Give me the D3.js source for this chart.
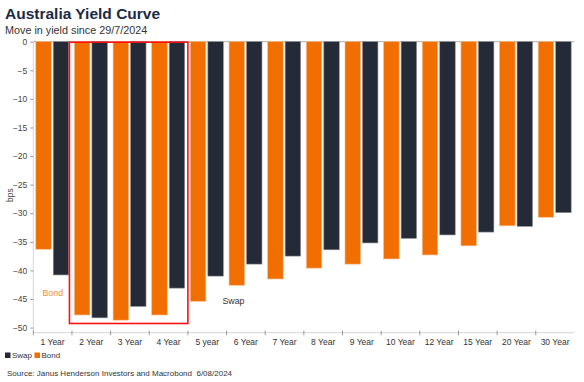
<!DOCTYPE html>
<html><head><meta charset="utf-8">
<script src="https://cdn.jsdelivr.net/npm/d3@7/dist/d3.min.js"></script>
<style>body{margin:0;background:#fff;}svg{display:block;font-family:Arial,"Liberation Sans",sans-serif;}</style>
</head><body>
<svg id="c" width="584" height="382"></svg>
<script>
const categories = ["1 Year","2 Year","3 Year","4 Year","5 year","6 Year","7 Year","8 Year","9 Year","10 Year","12 Year","15 Year","20 Year","30 Year"];
const bond = [-36.3,-47.8,-48.7,-47.8,-45.4,-42.6,-41.5,-39.6,-38.9,-38.0,-37.3,-35.7,-32.2,-30.7];
const swap = [-40.8,-48.3,-46.3,-43.1,-41.0,-38.9,-37.5,-36.4,-35.2,-34.4,-33.8,-33.3,-32.3,-29.9];
const yTicks = [0,-5,-10,-15,-20,-25,-30,-35,-40,-45,-50];
const highlight = ["2 Year","4 Year"];

const svg = d3.select("#c");
const m = {l:33.3, r:574.4, t:41.7, b:332.7};
const x = d3.scaleBand().domain(categories).range([m.l, m.r]).paddingInner(0).paddingOuter(0);
const y = d3.scaleLinear().domain([0,-50.9]).range([m.t, m.b]);
const bw = x.bandwidth();
const barW = bw*0.40;

// title
svg.append("text").attr("x",5).attr("y",19).attr("font-size",15.5).attr("font-weight","bold").attr("fill","#1b2a45").text("Australia Yield Curve");
svg.append("text").attr("x",5).attr("y",33.5).attr("font-size",10.8).attr("fill","#333").text("Move in yield since 29/7/2024");

// zero line (top)
svg.append("line").attr("x1",m.l).attr("x2",m.r).attr("y1",y(0)).attr("y2",y(0)).attr("stroke","#b0b0b0").attr("stroke-width",1);

// y axis
const ya = svg.append("g").attr("transform",`translate(${m.l},0)`)
  .call(d3.axisLeft(y).tickValues(yTicks).tickSize(3).tickPadding(3).tickFormat(d=>d===0?"0":d3.format("d")(d)));
ya.select(".domain").attr("stroke","#d6d6d6").attr("d",`M0,${y(0)}V${m.b}`);
ya.selectAll(".tick line").attr("stroke","#999");
ya.selectAll(".tick text").attr("font-size",8.5).attr("fill","#444").attr("font-family","Arial,'Liberation Sans',sans-serif");
svg.append("text").attr("transform",`translate(13,${(m.t+m.b)/2+8}) rotate(-90)`).attr("text-anchor","middle").attr("font-size",8.5).attr("fill","#444").text("bps");

// bars
const g = svg.append("g");
g.selectAll("rect.bond").data(categories).join("rect").attr("class","bond")
  .attr("x",d=>x(d)+2.5).attr("width",barW).attr("y",y(0))
  .attr("height",(d,i)=>y(bond[i])-y(0)).attr("fill","#f06f00").attr("stroke","#f8b784").attr("stroke-width",0.6);
g.selectAll("rect.swap").data(categories).join("rect").attr("class","swap")
  .attr("x",d=>x(d)+2.5+barW+2).attr("width",barW).attr("y",y(0))
  .attr("height",(d,i)=>y(swap[i])-y(0)).attr("fill","#252a37").attr("stroke","#8a8e98").attr("stroke-width",0.6);

// x axis
const xa = svg.append("g").attr("transform",`translate(0,${m.b})`);
xa.append("line").attr("x1",m.l).attr("x2",m.r).attr("stroke","#d6d6d6");
xa.selectAll("line.t").data(categories).join("line").attr("class","t")
  .attr("x1",d=>x(d)).attr("x2",d=>x(d)).attr("y1",-2).attr("y2",2.5).attr("stroke","#999");
xa.selectAll("text").data(categories).join("text")
  .attr("x",d=>x(d)+bw/2).attr("y",12).attr("text-anchor","middle").attr("font-size",8.5).attr("fill","#333").text(d=>d);

// highlight box
svg.append("rect").attr("x",x(highlight[0])-2.5).attr("y",y(0)+0.5)
  .attr("width",x(highlight[1])+bw - x(highlight[0])+2.5).attr("height",y(-49.2)-y(0))
  .attr("fill","none").attr("stroke","#ff1010").attr("stroke-width",1.6);

// annotations
svg.append("text").attr("x",42.5).attr("y",y(-44.5)).attr("font-size",8.8).attr("fill","#f28a30").text("Bond");
svg.append("text").attr("x",222.5).attr("y",y(-45.9)).attr("font-size",8.8).attr("fill","#333").text("Swap");

// legend
const lg = svg.append("g").attr("transform","translate(5,356)");
lg.append("rect").attr("x",0).attr("y",-3.5).attr("width",5.5).attr("height",5.5).attr("fill","#252a37");
lg.append("text").attr("x",7).attr("y",2.3).attr("font-size",8).attr("fill","#333").text("Swap");
lg.append("rect").attr("x",29.5).attr("y",-3.5).attr("width",5.5).attr("height",5.5).attr("fill","#f06f00");
lg.append("text").attr("x",36.5).attr("y",2.3).attr("font-size",8).attr("fill","#333").text("Bond");

svg.append("text").attr("x",7).attr("y",376).attr("font-size",8).attr("fill","#333").attr("xml:space","preserve").text("Source: Janus Henderson Investors and Macrobond  6/08/2024");
</script>
</body></html>
